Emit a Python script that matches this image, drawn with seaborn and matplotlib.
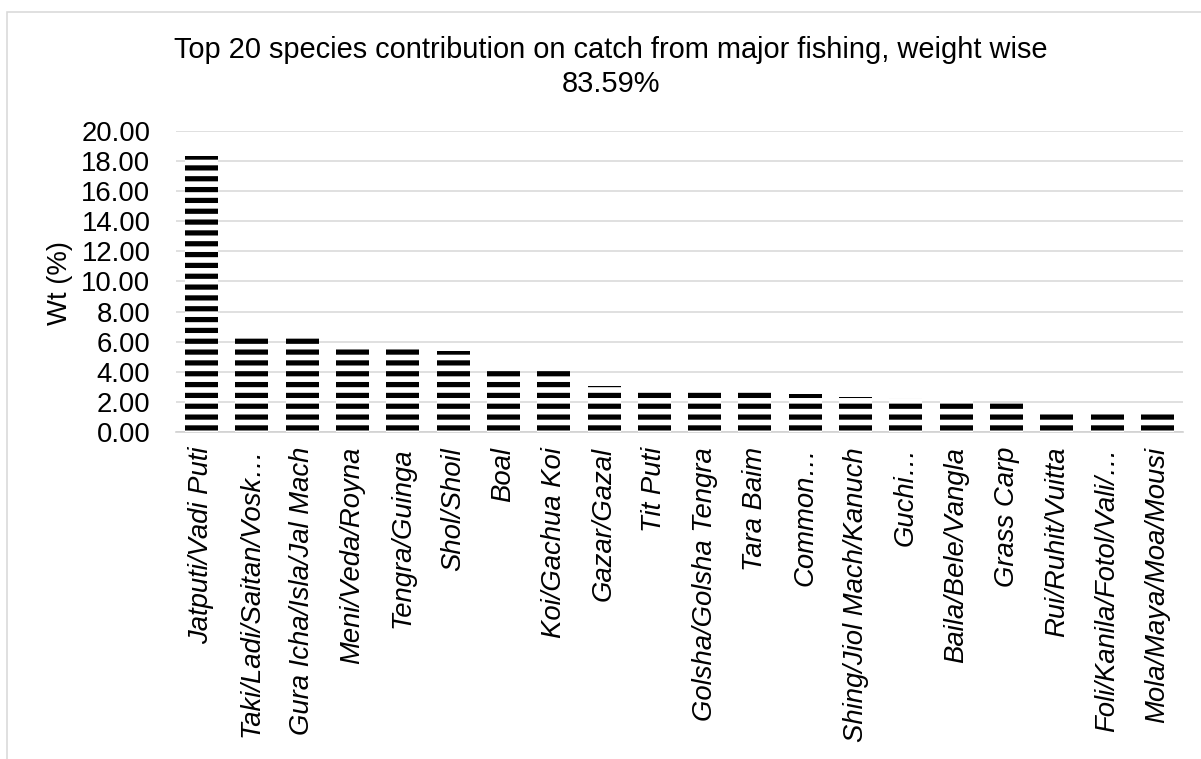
import matplotlib
matplotlib.use("Agg")
import matplotlib.pyplot as plt
from matplotlib.patches import Rectangle
import seaborn as sns
import pandas as pd

# Species (local names) and their share of total catch weight, %
species = [
    "Jatputi/Vadi Puti",
    "Taki/Ladi/Saitan/Vosk\u2026",
    "Gura Icha/Isla/Jal Mach",
    "Meni/Veda/Royna",
    "Tengra/Guinga",
    "Shol/Shoil",
    "Boal",
    "Koi/Gachua Koi",
    "Gazar/Gazal",
    "Tit Puti",
    "Golsha/Golsha Tengra",
    "Tara Baim",
    "Common\u2026",
    "Shing/Jiol Mach/Kanuch",
    "Guchi\u2026",
    "Baila/Bele/Vangla",
    "Grass Carp",
    "Rui/Ruhit/Vuitta",
    "Foli/Kanila/Fotol/Vali/\u2026",
    "Mola/Maya/Moa/Mousi",
]
weight_pct = [18.35, 6.45, 6.45, 5.70, 5.70, 5.38, 4.18, 4.06, 3.08, 2.92,
              2.70, 2.67, 2.52, 2.30, 2.26, 2.08, 1.93, 1.50, 1.45, 1.18]
y_ticks = [0, 2, 4, 6, 8, 10, 12, 14, 16, 18, 20]

title_lines = ["Top 20 species contribution on catch from major fishing, weight wise",
               "83.59%"]

DPI = 65
W, H = 1201, 759


def px(v):
    """pixels -> points at the working dpi"""
    return v * 72.0 / DPI


FS = px(27.5)
FS_TITLE = px(29)

sns.set_style("white")
plt.rcParams["font.family"] = ["Liberation Sans", "DejaVu Sans"]
plt.rcParams["hatch.linewidth"] = px(5.2)
plt.rcParams["hatch.color"] = "black"

df = pd.DataFrame({"species": species, "wt": weight_pct})

fig = plt.figure(figsize=(W / DPI, H / DPI), dpi=DPI)
fig.patch.set_facecolor("white")

left, right = 176.4, 1182.6
bottom, top = 432.0, 130.8
ax = fig.add_axes([left / W, 1 - bottom / H, (right - left) / W, (bottom - top) / H])

sns.barplot(data=df, x="species", y="wt", ax=ax, color="white", saturation=1,
            width=0.656, edgecolor="black", linewidth=0, hatch="-", zorder=3)

ax.set_ylim(0, 20)
ax.set_xlim(-0.5, len(species) - 0.5)
ax.set_yticks(y_ticks)
ax.set_yticklabels([f"{v:.2f}" for v in y_ticks], fontsize=FS, color="black")
ax.yaxis.grid(True, color="#d9d9d9", linewidth=px(1.6), zorder=0)
ax.xaxis.grid(False)
ax.set_axisbelow(True)
for s in ["top", "right", "left"]:
    ax.spines[s].set_visible(False)
ax.spines["bottom"].set_color("#d0d0d0")
ax.spines["bottom"].set_linewidth(px(1.6))
ax.tick_params(axis="y", length=0, pad=px(26))
ax.tick_params(axis="x", length=0, pad=px(15))

ax.set_xticks(range(len(species)))
ax.set_xticklabels(species, rotation=90, fontsize=FS, fontstyle="italic",
                   ha="center", va="top", color="black")
ax.set_xlabel("")
ax.set_ylabel("Wt (%)", fontsize=FS, color="black")
ax.yaxis.set_label_coords((73 - left) / (right - left), (bottom - 283) / (bottom - top))

fig.text(611 / W, 1 - 50 / H, title_lines[0], ha="center", va="center",
         fontsize=FS_TITLE, color="black")
fig.text(611 / W, 1 - 84 / H, title_lines[1], ha="center", va="center",
         fontsize=FS_TITLE, color="black")

# light chart-area frame
fig.patches.append(Rectangle((7 / W, -0.2), 1.2, 1.2 - 12 / H,
                             transform=fig.transFigure, fill=False,
                             edgecolor="#d9d9d9", linewidth=px(1.6)))

fig.savefig("out.png", dpi=DPI, facecolor="white")
